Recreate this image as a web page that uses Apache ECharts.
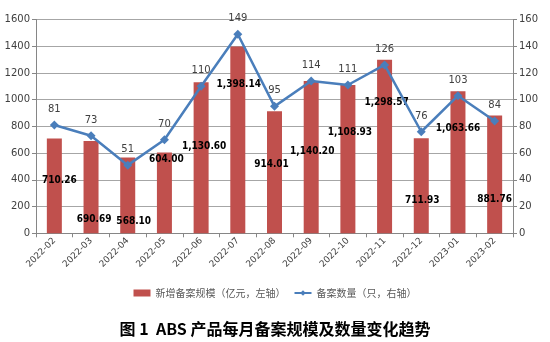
<!DOCTYPE html>
<html>
<head>
<meta charset="utf-8">
<script src="https://cdn.jsdelivr.net/npm/echarts@6/dist/echarts.min.js"></script>
<style>
  html, body { margin: 0; padding: 0; background: #fff; }
  #chart { width: 550px; height: 342px; }
</style>
</head>
<body>
<div id="chart"></div>
<script>
// Monthly ABS filings
const months = ['2022-02','2022-03','2022-04','2022-05','2022-06','2022-07','2022-08',
                '2022-09','2022-10','2022-11','2022-12','2023-01','2023-02'];
// New filing scale (100 million yuan, left axis)
const scale = [710.26, 690.69, 568.10, 604.00, 1130.60, 1398.14, 914.01,
               1140.20, 1108.93, 1298.57, 711.93, 1063.66, 881.76];
// Number of filings (right axis)
const counts = [81, 73, 51, 70, 110, 149, 95, 114, 111, 126, 76, 103, 84];

const leftTicks = { min: 0, max: 1600, interval: 200 };
const rightTicks = { min: 0, max: 160, interval: 20 };

// Where each bar's value label sits: height in left-axis units and sideways nudge in px
const labelLevel = [398, 107, 92, 555, 652, 1115, 516, 615, 757, 980, 249, 785, 256];
const labelNudge = [5, 3, 6, 2, 3, 1, -3, 1, 2, 2, 1, 0, 0];

const barName = '新增备案规模（亿元，左轴）';
const lineName = '备案数量（只，右轴）';

const chart = echarts.init(document.getElementById('chart'), null, { renderer: 'canvas' });

const axisFont = { fontFamily: 'DejaVu Sans', fontSize: 9, color: '#404040' };

function fmt(v) {
  return v.toLocaleString('en-US', { minimumFractionDigits: 2, maximumFractionDigits: 2 });
}

const option = {
  animation: false,
  backgroundColor: '#ffffff',
  title: {
    text: '图 1  ABS 产品每月备案规模及数量变化趋势',
    left: 'center',
    top: 316,
    textStyle: { fontFamily: 'Noto Sans CJK SC', fontWeight: 'bold', fontSize: 16, color: '#000' }
  },
  legend: {
    top: 283,
    left: 'center',
    itemGap: 8,
    itemWidth: 17,
    itemHeight: 7,
    textStyle: { fontFamily: 'Noto Sans CJK SC', fontSize: 10, color: '#595959' },
    data: [
      { name: barName, icon: 'rect' },
      { name: lineName }
    ]
  },
  grid: { left: 36, right: 37, top: 19.5, bottom: 108.7, containLabel: false },
  xAxis: {
    type: 'category',
    data: months,
    boundaryGap: true,
    axisLine: { lineStyle: { color: '#868686', width: 1 } },
    axisTick: { show: true, length: 4, lineStyle: { color: '#868686' } },
    axisLabel: Object.assign({ rotate: 45, fontSize: 10, margin: 6 }, axisFont)
  },
  yAxis: [
    {
      type: 'value',
      min: leftTicks.min, max: leftTicks.max, interval: leftTicks.interval,
      axisLine: { show: true, lineStyle: { color: '#868686' } },
      axisTick: { show: true, length: 4, lineStyle: { color: '#868686' } },
      splitLine: { lineStyle: { color: '#a6a6a6', width: 1 } },
      axisLabel: Object.assign({ margin: 6, formatter: v => String(v) }, axisFont, { fontSize: 10 })
    },
    {
      type: 'value',
      min: rightTicks.min, max: rightTicks.max, interval: rightTicks.interval,
      axisLine: { show: true, lineStyle: { color: '#868686' } },
      axisTick: { show: true, length: 4, lineStyle: { color: '#868686' } },
      splitLine: { show: false },
      axisLabel: Object.assign({ margin: 6, formatter: v => String(v) }, axisFont, { fontSize: 10 })
    }
  ],
  series: [
    {
      name: barName,
      type: 'bar',
      yAxisIndex: 0,
      barWidth: 15,
      itemStyle: { color: '#c0504d' },
      data: scale,
      label: {
        show: true,
        position: 'insideBottom',
        distance: 0,
        verticalAlign: 'middle',
        formatter: p => fmt(p.value),
        fontFamily: 'DejaVu Sans Condensed, DejaVu Sans',
        fontWeight: 'bold',
        fontSize: 10,
        color: '#000'
      },
      z: 2
    },
    {
      name: lineName,
      type: 'line',
      yAxisIndex: 1,
      data: counts,
      symbol: 'diamond',
      symbolSize: 9,
      lineStyle: { color: '#4a7ebb', width: 2.5 },
      itemStyle: { color: '#4a7ebb' },
      label: {
        show: true,
        position: 'top',
        distance: 6,
        fontFamily: 'DejaVu Sans',
        fontSize: 10,
        color: '#404040'
      },
      z: 3
    }
  ]
};

chart.setOption(option);

// Place each bar label at its own height above the zero line
const zeroPx = chart.convertToPixel({ yAxisIndex: 0 }, 0);
chart.setOption({
  series: [{
    data: scale.map((v, i) => ({
      value: v,
      label: { offset: [labelNudge[i], chart.convertToPixel({ yAxisIndex: 0 }, labelLevel[i]) - zeroPx] }
    }))
  }]
});
</script>
</body>
</html>
